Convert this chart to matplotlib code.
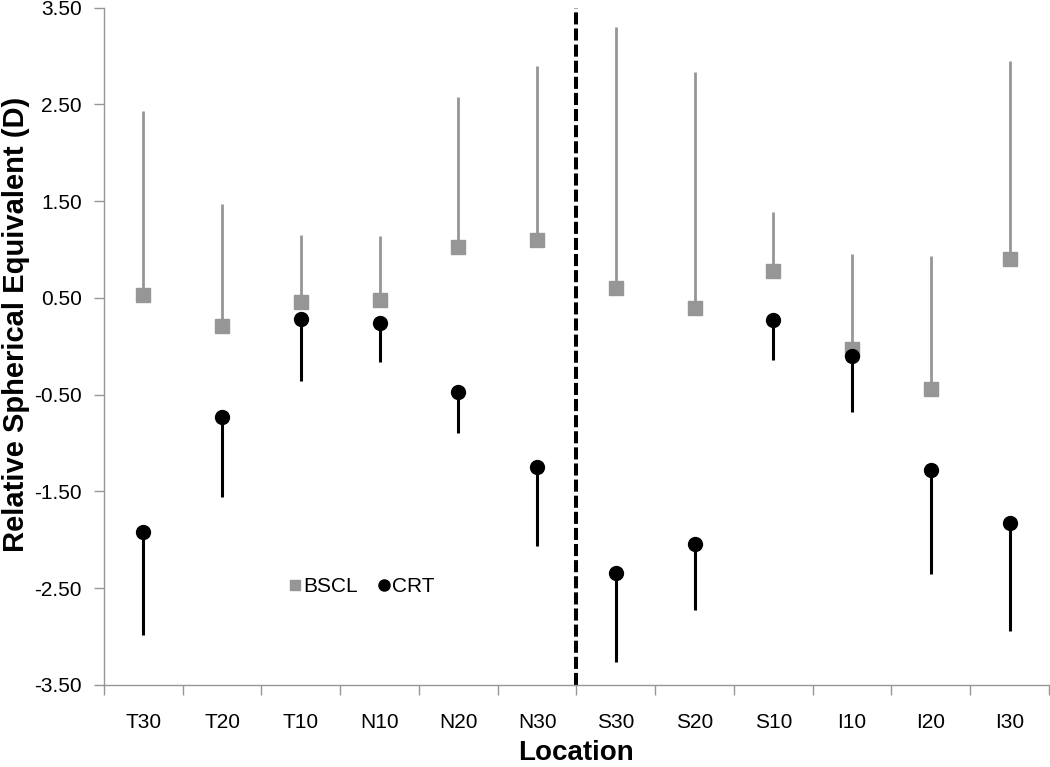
import numpy as np
import matplotlib
matplotlib.use('Agg')
import matplotlib.pyplot as plt
from matplotlib.lines import Line2D

plt.rcParams['font.family'] = ['Liberation Sans', 'DejaVu Sans']

# 위치 라벨
locations = ['T30', 'T20', 'T10', 'N10', 'N20', 'N30',
             'S30', 'S20', 'S10', 'I10', 'I20', 'I30']

# BSCL 평균과 위쪽 오차 끝
bscl_mean = [0.53, 0.21, 0.46, 0.48, 1.03, 1.10, 0.60, 0.40, 0.78, -0.03, -0.44, 0.90]
bscl_upper = [2.43, 1.47, 1.15, 1.14, 2.58, 2.90, 3.30, 2.83, 1.39, 0.95, 0.93, 2.95]

# CRT 평균과 아래쪽 오차 끝
crt_mean = [-1.92, -0.73, 0.28, 0.24, -0.47, -1.25, -2.34, -2.04, 0.27, -0.10, -1.28, -1.83]
crt_lower = [-2.98, -1.56, -0.36, -0.16, -0.90, -2.06, -3.26, -2.73, -0.14, -0.68, -2.35, -2.94]

x = np.arange(len(locations))
bscl_mean = np.array(bscl_mean)
crt_mean = np.array(crt_mean)
bscl_err = [np.zeros(len(x)), np.array(bscl_upper) - bscl_mean]
crt_err = [crt_mean - np.array(crt_lower), np.zeros(len(x))]

fig = plt.figure(figsize=(10.5, 7.67), dpi=100)
ax = fig.add_axes([0.099, 0.107, 0.90, 0.883])

gray = '#969696'
ax.errorbar(x, bscl_mean, yerr=bscl_err, fmt='s', color=gray, ecolor=gray,
            elinewidth=2.0, capsize=0, markersize=9.5, zorder=3)
ax.errorbar(x, crt_mean, yerr=crt_err, fmt='o', color='black', ecolor='black',
            elinewidth=2.2, capsize=0, markersize=10, zorder=4)

# 구분 점선
ax.axvline(5.5, color='black', linestyle=(0, (3, 1)), linewidth=2.9, zorder=2)

ax.set_xlim(-0.5, len(x) - 0.5)
ax.set_ylim(-3.5, 3.5)
yt = np.arange(-3.5, 3.51, 1.0)
ax.set_yticks(yt)
ax.set_yticklabels([f'{v:.2f}' for v in yt])
ax.set_xticks(x)
ax.set_xticklabels(locations)
ax.set_xticks(np.arange(-0.5, len(x), 1.0), minor=True)
ax.tick_params(axis='x', which='major', length=0, labelsize=15, pad=20)
ax.tick_params(axis='x', which='minor', length=7, color=gray, width=1)
ax.tick_params(axis='y', length=7, color=gray, width=1, labelsize=15, pad=9)

for s in ['top', 'right']:
    ax.spines[s].set_visible(False)
for s in ['left', 'bottom']:
    ax.spines[s].set_color(gray)
    ax.spines[s].set_linewidth(1)

ax.set_xlabel('Location', fontsize=20, fontweight='bold', labelpad=6)
ax.set_ylabel('Relative Spherical Equivalent (D)', fontsize=21, fontweight='bold')
ax.yaxis.set_label_coords(-0.078, 0.532)

handles = [Line2D([], [], linestyle='none', marker='s', color=gray, markersize=7.5),
           Line2D([], [], linestyle='none', marker='o', color='black', markersize=8)]
ax.legend(handles, ['BSCL', 'CRT'], loc='center', bbox_to_anchor=(0.273, 0.145),
          ncol=2, frameon=False, fontsize=15, handlelength=0.5,
          handletextpad=0.15, columnspacing=1.0)

plt.savefig('out.png', dpi=100)
